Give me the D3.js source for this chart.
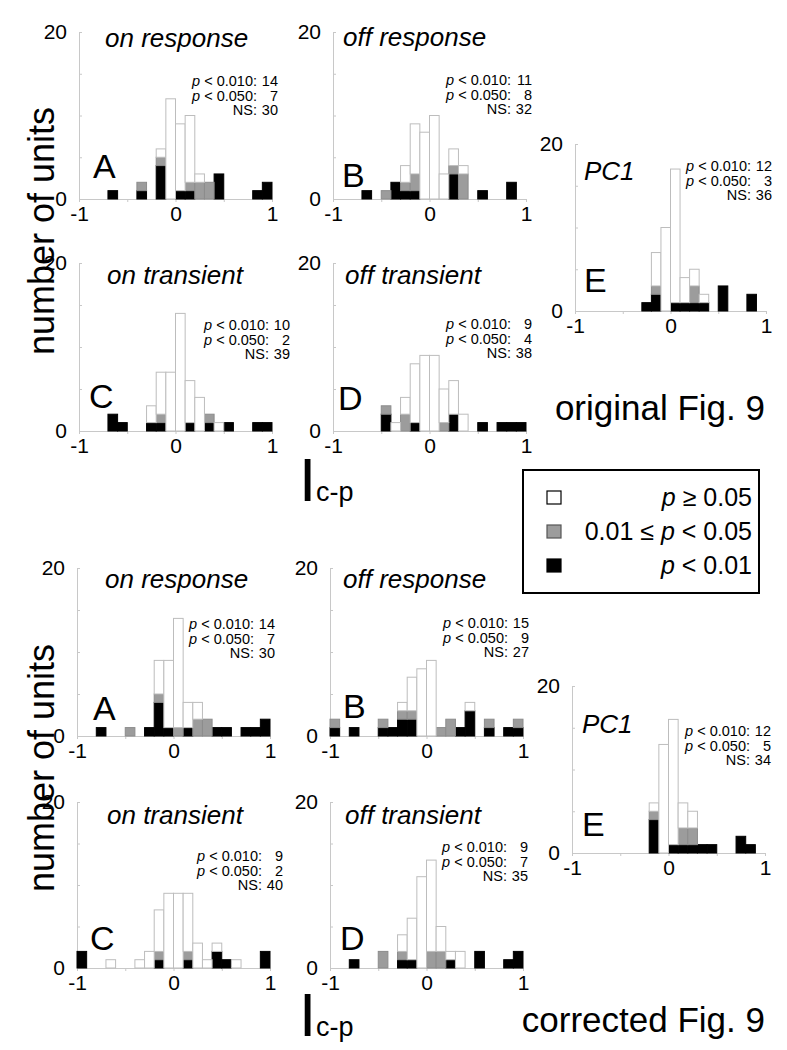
<!DOCTYPE html>
<html>
<head>
<meta charset="utf-8">
<script src="https://cdn.jsdelivr.net/npm/d3@7/dist/d3.min.js"></script>
<style>
  body { margin: 0; background: #fff; }
  svg { display: block; font-family: "Liberation Sans", Arial, sans-serif; }
</style>
</head>
<body>
<div id="chart"></div>
<script>
// left edge of each histogram bin (bin width 0.1)
const binStarts = [-1.0, -0.9, -0.8, -0.7, -0.6, -0.5, -0.4, -0.3, -0.2, -0.1,
                    0.0,  0.1,  0.2,  0.3,  0.4,  0.5,  0.6,  0.7,  0.8,  0.9];
const binWidth = 0.1;
const yTickValues = [0, 5, 10, 15, 20];
const yTickShown = [0, 20];
const xTickValues = [-1, -0.5, 0, 0.5, 1];
const xTickShown = [-1, 0, 1];

const titles = ["on response", "off response", "on transient", "off transient", "PC1"];
const letters = ["A", "B", "C", "D", "E"];
const statLabels = [" < 0.010:", " < 0.050:", "NS:"];
const legendLabels = ["p \u2265 0.05", "0.01 \u2264 p < 0.05", "p < 0.01"];

// ---- original Fig. 9 ----  (p<0.01 black, 0.01<=p<0.05 grey, NS white)
const origA_p01 = [0,0,0,1,0,0,1,0,4,0,1,1,0,0,3,0,0,0,1,2];
const origA_p05 = [0,0,0,0,0,0,1,0,1,0,0,1,2,2,0,0,0,0,0,0];
const origA_ns  = [0,0,0,0,0,0,0,0,1,12,8,8,1,0,0,0,0,0,0,0];
const origA_stats = [14, 7, 30];

const origB_p01 = [0,0,0,1,0,0,2,1,1,0,0,0,3,0,0,1,0,0,2,0];
const origB_p05 = [0,0,0,0,0,1,0,1,2,0,0,0,1,3,0,0,0,0,0,0];
const origB_ns  = [0,0,0,0,0,0,0,2,6,8,10,3,2,1,0,0,0,0,0,0];
const origB_stats = [11, 8, 32];

const origC_p01 = [0,0,0,2,1,0,0,1,1,0,0,1,0,1,0,1,0,0,1,1];
const origC_p05 = [0,0,0,0,0,0,0,0,1,0,0,0,0,1,0,0,0,0,0,0];
const origC_ns  = [0,0,0,0,0,0,0,2,5,7,14,5,4,0,1,0,0,0,0,0];
const origC_stats = [10, 2, 39];

const origD_p01 = [0,0,0,0,0,2,0,0,1,0,0,0,2,0,0,1,0,1,1,1];
const origD_p05 = [0,0,0,0,0,1,0,2,0,0,0,1,0,0,0,0,0,0,0,0];
const origD_ns  = [0,0,0,0,0,0,1,2,7,9,9,4,4,2,0,0,0,0,0,0];
const origD_stats = [9, 4, 38];

const origE_p01 = [0,0,0,0,0,0,0,1,2,0,1,1,1,1,0,3,0,0,2,0];
const origE_p05 = [0,0,0,0,0,0,0,0,1,0,0,0,2,0,0,0,0,0,0,0];
const origE_ns  = [0,0,0,0,0,0,0,0,4,10,16,3,2,1,0,0,0,0,0,0];
const origE_stats = [12, 3, 36];

// ---- corrected Fig. 9 ----
const corrA_p01 = [0,0,1,0,0,0,0,1,4,1,0,1,0,0,1,1,0,1,1,2];
const corrA_p05 = [0,0,0,0,0,1,0,0,1,0,1,0,2,2,0,0,0,0,0,0];
const corrA_ns  = [0,0,0,0,0,0,0,0,4,8,13,3,2,0,0,0,0,0,0,0];
const corrA_stats = [14, 7, 30];

const corrB_p01 = [1,0,1,0,0,1,1,2,2,0,0,0,0,1,3,0,1,0,1,1];
const corrB_p05 = [1,0,0,0,0,1,0,1,1,0,0,1,2,0,0,0,1,0,0,1];
const corrB_ns  = [0,0,0,0,0,0,0,1,4,8,9,0,0,0,1,0,0,0,0,0];
const corrB_stats = [15, 9, 27];

const corrC_p01 = [2,0,0,0,0,0,0,0,1,0,0,1,0,0,2,1,0,0,0,2];
const corrC_p05 = [0,0,0,0,0,0,0,0,1,0,0,1,0,0,0,0,0,0,0,0];
const corrC_ns  = [0,0,0,1,0,0,1,2,5,9,9,7,3,1,1,0,1,0,0,0];
const corrC_stats = [9, 2, 40];

const corrD_p01 = [0,0,1,0,0,0,0,1,1,0,0,0,1,0,0,2,0,0,1,2];
const corrD_p05 = [0,0,0,0,0,2,0,1,0,0,2,2,0,0,0,0,0,0,0,0];
const corrD_ns  = [0,0,0,0,0,0,0,2,5,11,11,3,1,2,0,0,0,0,0,0];
const corrD_stats = [9, 7, 35];

const corrE_p01 = [0,0,0,0,0,0,0,0,4,0,1,1,1,1,1,0,0,2,1,0];
const corrE_p05 = [0,0,0,0,0,0,0,0,1,0,0,2,2,0,0,0,0,0,0,0];
const corrE_ns  = [0,0,0,0,0,0,0,0,1,13,15,3,2,0,0,0,0,0,0,0];
const corrE_stats = [12, 5, 34];

const panels = [
  { id: 0, p01: origA_p01, p05: origA_p05, ns: origA_ns, stats: origA_stats },
  { id: 1, p01: origB_p01, p05: origB_p05, ns: origB_ns, stats: origB_stats },
  { id: 2, p01: origC_p01, p05: origC_p05, ns: origC_ns, stats: origC_stats },
  { id: 3, p01: origD_p01, p05: origD_p05, ns: origD_ns, stats: origD_stats },
  { id: 4, p01: origE_p01, p05: origE_p05, ns: origE_ns, stats: origE_stats },
  { id: 0, p01: corrA_p01, p05: corrA_p05, ns: corrA_ns, stats: corrA_stats },
  { id: 1, p01: corrB_p01, p05: corrB_p05, ns: corrB_ns, stats: corrB_stats },
  { id: 2, p01: corrC_p01, p05: corrC_p05, ns: corrC_ns, stats: corrC_stats },
  { id: 3, p01: corrD_p01, p05: corrD_p05, ns: corrD_ns, stats: corrD_stats },
  { id: 4, p01: corrE_p01, p05: corrE_p05, ns: corrE_ns, stats: corrE_stats }
];

// page placement of each panel: axis box, title, letter, stats block [number right edge, first baseline]
const layout = [
  { x0: 79,  x1: 272, yTop: 32,  yBase: 199, title: [105, 47],  letter: [93, 178],  stat: [278, 86] },
  { x0: 333, x1: 526, yTop: 32,  yBase: 199, title: [343, 46],  letter: [342, 187], stat: [532, 85] },
  { x0: 79,  x1: 272, yTop: 263, yBase: 431, title: [107, 284], letter: [89, 408],  stat: [290, 330] },
  { x0: 333, x1: 526, yTop: 263, yBase: 431, title: [345, 284], letter: [338, 410], stat: [532, 329] },
  { x0: 575, x1: 766, yTop: 144, yBase: 311, title: [584, 180], letter: [584, 292], stat: [772, 171] },
  { x0: 77,  x1: 270, yTop: 568, yBase: 736, title: [105, 588], letter: [93, 720],  stat: [275, 629] },
  { x0: 330, x1: 523, yTop: 568, yBase: 736, title: [343, 588], letter: [343, 718], stat: [529, 628] },
  { x0: 77,  x1: 270, yTop: 802, yBase: 968, title: [107, 824], letter: [90, 950],  stat: [283, 861] },
  { x0: 330, x1: 523, yTop: 802, yBase: 968, title: [345, 824], letter: [340, 950], stat: [528, 852] },
  { x0: 572, x1: 765, yTop: 686, yBase: 853, title: [582, 733], letter: [582, 836], stat: [771, 736] }
];

const fills = { p01: "#000000", p05: "#9c9c9c", ns: "#ffffff" };
const strokes = { p01: "#000000", p05: "#8c8c8c", ns: "#bdbdbd" };
const axisGrey = "#c8c8c8";

const width = 787, height = 1050;
const svg = d3.select("#chart").append("svg")
  .attr("width", width)
  .attr("height", height);

function drawPanel(p, L) {
  const x = d3.scaleLinear().domain([-1, 1]).range([L.x0, L.x1]);
  const y = d3.scaleLinear().domain([0, 20]).range([L.yBase, L.yTop]);
  const g = svg.append("g");

  // y axis: thin grey line, small inner ticks, labels only at 0 and 20
  const yAxis = g.append("g")
    .attr("transform", `translate(${L.x0},0)`)
    .call(d3.axisLeft(y).tickValues(yTickValues).tickSize(-3).tickSizeOuter(0)
      .tickPadding(12)
      .tickFormat(d => yTickShown.includes(d) ? d : ""));
  yAxis.select(".domain").attr("stroke", axisGrey);
  yAxis.selectAll(".tick line").attr("stroke", axisGrey);
  yAxis.selectAll("text").attr("font-size", 21).attr("fill", "#000")
    .attr("font-family", "Liberation Sans, Arial, sans-serif");

  // x axis
  const xAxis = g.append("g")
    .attr("transform", `translate(0,${L.yBase})`)
    .call(d3.axisBottom(x).tickValues(xTickValues).tickSize(3).tickSizeOuter(0)
      .tickPadding(4)
      .tickFormat(d => xTickShown.includes(d) ? (d < 0 ? "-" + Math.abs(d) : d) : ""));
  xAxis.select(".domain").attr("stroke", axisGrey);
  xAxis.selectAll(".tick line").attr("stroke", axisGrey);
  xAxis.selectAll("text").attr("font-size", 21).attr("fill", "#000")
    .attr("font-family", "Liberation Sans, Arial, sans-serif");

  // stacked histogram
  const rows = binStarts.map((b, i) => ({ b: b, p01: p.p01[i], p05: p.p05[i], ns: p.ns[i] }));
  const series = d3.stack().keys(["p01", "p05", "ns"])(rows);
  g.selectAll("g.layer")
    .data(series)
    .join("g")
    .attr("class", "layer")
    .attr("fill", d => fills[d.key])
    .attr("stroke", d => strokes[d.key])
    .attr("stroke-width", 1)
    .selectAll("rect")
    .data(d => d.filter(s => s[1] > s[0]))
    .join("rect")
    .attr("x", s => x(s.data.b))
    .attr("width", s => x(s.data.b + binWidth) - x(s.data.b))
    .attr("y", s => y(s[1]))
    .attr("height", s => y(s[0]) - y(s[1]));

  // title
  g.append("text")
    .attr("x", L.title[0]).attr("y", L.title[1])
    .attr("font-size", 26)
    .attr("font-style", "italic")
    .text(titles[p.id]);

  // panel letter
  g.append("text")
    .attr("x", L.letter[0]).attr("y", L.letter[1])
    .attr("font-size", 34)
    .text(letters[p.id]);

  // stats block: label column ends a little left of the number column
  statLabels.forEach((lab, i) => {
    const by = L.stat[1] + i * 14.5;
    const t = g.append("text")
      .attr("x", L.stat[0] - 21).attr("y", by)
      .attr("font-size", 14.5)
      .attr("text-anchor", "end");
    if (i < 2) t.append("tspan").attr("font-style", "italic").text("p");
    t.append("tspan").text(lab);
    g.append("text")
      .attr("x", L.stat[0]).attr("y", by)
      .attr("font-size", 14.5)
      .attr("text-anchor", "end")
      .text(p.stats[i]);
  });
}

panels.forEach((p, i) => drawPanel(p, layout[i]));

// y-axis titles
[231, 768].forEach(cy => {
  svg.append("text")
    .attr("transform", `translate(54,${cy}) rotate(-90)`)
    .attr("text-anchor", "middle")
    .attr("font-size", 36)
    .text("number of units");
});

// x-axis titles  I with subscript c-p (two text nodes so boxes stay apart)
[501, 1036].forEach(by => {
  svg.append("text").attr("x", 299).attr("y", by)
    .attr("font-size", 62).text("I");
  svg.append("text").attr("x", 316).attr("y", by)
    .attr("font-size", 27).text("c-p");
});

// figure captions
svg.append("text").attr("x", 765).attr("y", 420)
  .attr("text-anchor", "end").attr("font-size", 35).text("original Fig. 9");
svg.append("text").attr("x", 765).attr("y", 1032)
  .attr("text-anchor", "end").attr("font-size", 35).text("corrected Fig. 9");

// legend
const legend = svg.append("g");
legend.append("rect")
  .attr("x", 523).attr("y", 470).attr("width", 236).attr("height", 123)
  .attr("fill", "#fff").attr("stroke", "#000").attr("stroke-width", 2);
const legendKeys = ["ns", "p05", "p01"];
const legendY = d3.scalePoint().domain(legendKeys).range([498, 566]);
legendKeys.forEach((k, i) => {
  legend.append("rect")
    .attr("x", 547).attr("y", legendY(k) - 7).attr("width", 14).attr("height", 13)
    .attr("fill", fills[k])
    .attr("stroke", k === "p05" ? "#555" : "#000")
    .attr("stroke-width", 1.2);
  const t = legend.append("text")
    .attr("x", 752).attr("y", legendY(k) + 8)
    .attr("text-anchor", "end")
    .attr("font-size", 25);
  const parts = legendLabels[i].split("p");
  t.append("tspan").text(parts[0]);
  t.append("tspan").attr("font-style", "italic").text("p");
  t.append("tspan").text(parts[1]);
});
</script>
</body>
</html>
